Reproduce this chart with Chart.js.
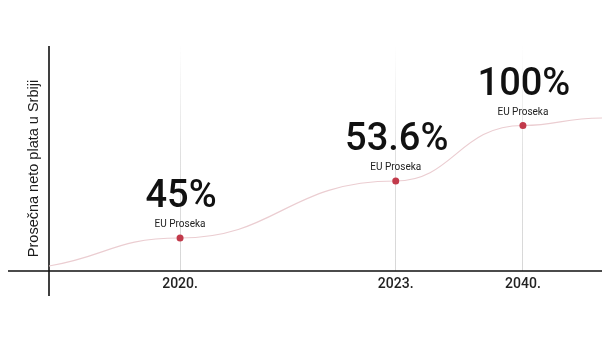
<!DOCTYPE html>
<html>
<head>
<meta charset="utf-8">
<script src="https://cdn.jsdelivr.net/npm/chart.js@4"></script>
<style>
  html, body { margin: 0; padding: 0; background: #fff; }
  #wrap { width: 602px; height: 339px; }
</style>
</head>
<body>
<div id="wrap"><canvas id="plataChart" width="602" height="339"></canvas></div>
<script>
// podaci
const years = ['2020.', '2023.', '2040.'];
const yearX = [23.7, 62.7, 85.7];          // polozaj na x osi (0-100)
const yearY = [33, 90, 145.5];             // visina tacke
const shares = ['45%', '53.6%', '100%'];
const subLabel = 'EU Proseka';
const lineStart = { x: 0, y: 5 };
const lineEnd = { x: 100, y: 153 };
const yTitle = 'Prosečna neto plata u Srbiji';

const points = [lineStart].concat(yearX.map((x, i) => ({ x: x, y: yearY[i] })), [lineEnd]);

// glatka kriva sa horizontalnim tangentama u tackama
const smoothCurve = {
    id: 'smoothCurve',
    beforeDatasetDraw(chart, args) {
        const line = args.meta.dataset;
        const pts = args.meta.data;
        line.updateControlPoints(chart.chartArea, 'x');
        for (let i = 0; i < pts.length; i++) {
            const p = pts[i];
            const prev = pts[i - 1];
            const next = pts[i + 1];
            if (prev) {
                p.cp1x = p.x - (p.x - prev.x) * 0.5;
                p.cp1y = p.y;
            }
            if (next) {
                p.cp2x = p.x + (next.x - p.x) * 0.45;
                p.cp2y = i === 0 ? p.y - (p.y - next.y) * 0.35 : p.y;
            }
        }
    }
};

// ose, naslov i natpisi
const decorations = {
    id: 'decorations',
    beforeDatasetsDraw(chart) {
        const { ctx, chartArea } = chart;
        ctx.save();
        ctx.strokeStyle = '#111';
        ctx.lineWidth = 1.6;
        ctx.beginPath();
        ctx.moveTo(chartArea.left, chartArea.top);
        ctx.lineTo(chartArea.left, chartArea.bottom + 25);
        ctx.moveTo(8, chartArea.bottom);
        ctx.lineTo(chart.width, chartArea.bottom);
        ctx.stroke();

        ctx.translate(34, 168.5);
        ctx.rotate(-Math.PI / 2);
        ctx.fillStyle = '#1a1a1a';
        ctx.font = '14.5px "Liberation Sans", Arial, sans-serif';
        ctx.textAlign = 'center';
        ctx.textBaseline = 'middle';
        ctx.fillText(yTitle, 0, 0);
        ctx.restore();
    },
    afterDatasetsDraw(chart) {
        const { ctx } = chart;
        const pts = chart.getDatasetMeta(0).data;
        ctx.save();
        ctx.textAlign = 'center';
        ctx.textBaseline = 'alphabetic';
        shares.forEach((s, i) => {
            const p = pts[i + 1];
            ctx.fillStyle = '#111';
            ctx.font = '500 38px Roboto';
            ctx.fillText(s, p.x + 1, p.y - 31);
            ctx.fillStyle = '#222';
            ctx.font = '10px Roboto';
            ctx.fillText(subLabel, p.x, p.y - 11);
        });
        ctx.restore();
    }
};

const ctx = document.getElementById('plataChart').getContext('2d');
window.plataChart = new Chart(ctx, {
    type: 'line',
    data: {
        datasets: [{
            data: points,
            borderColor: '#ebcdd1',
            borderWidth: 1.2,
            tension: 0.4,
            fill: false,
            pointRadius: c => (c.dataIndex === 0 || c.dataIndex === points.length - 1) ? 0 : 3.5,
            pointBackgroundColor: '#c23a4b',
            pointBorderWidth: 0
        }]
    },
    options: {
        responsive: false,
        maintainAspectRatio: false,
        animation: false,
        layout: { padding: { left: 49, right: 0, top: 46, bottom: 0 } },
        plugins: {
            legend: { display: false },
            tooltip: { enabled: false }
        },
        scales: {
            x: {
                type: 'linear',
                min: 0,
                max: 100,
                afterFit: s => { s.height = 68; },
                afterBuildTicks: s => { s.ticks = yearX.map(v => ({ value: v })); },
                border: { display: false },
                grid: {
                    drawTicks: false,
                    lineWidth: 1,
                    color: c => {
                        const a = c.chart.chartArea;
                        if (!a) return '#ddd';
                        const g = c.chart.ctx.createLinearGradient(0, a.top, 0, a.bottom);
                        g.addColorStop(0, 'rgba(215,215,215,0)');
                        g.addColorStop(0.5, 'rgba(215,215,215,0.8)');
                        g.addColorStop(1, 'rgba(215,215,215,1)');
                        return g;
                    }
                },
                ticks: {
                    padding: 5,
                    color: '#222',
                    font: { family: 'Roboto', size: 14, weight: 500 },
                    maxRotation: 0,
                    autoSkip: false,
                    callback: v => years[yearX.indexOf(v)]
                }
            },
            y: {
                display: false,
                min: 0,
                max: 225
            }
        }
    },
    plugins: [smoothCurve, decorations]
});
</script>
</body>
</html>
